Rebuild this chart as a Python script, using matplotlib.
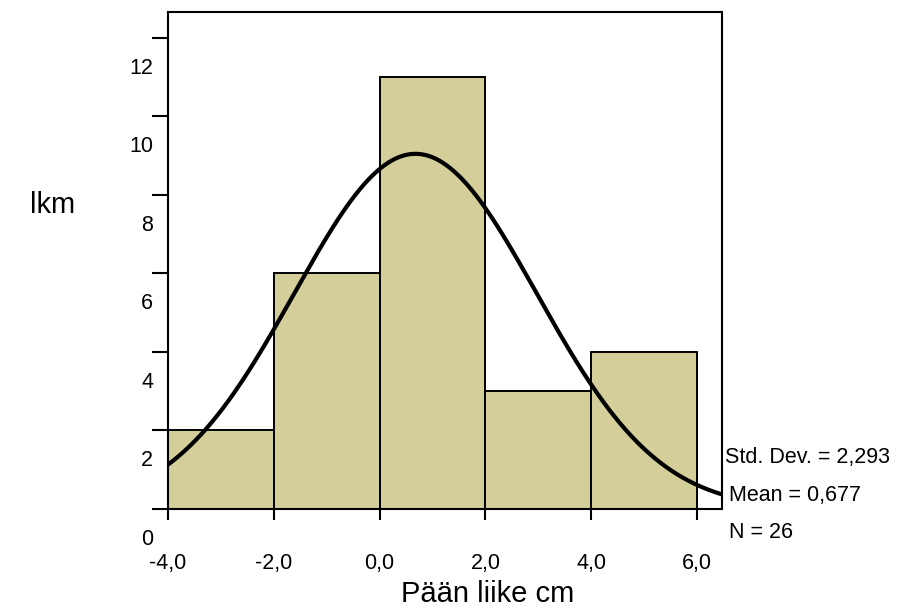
import numpy as np
import matplotlib
matplotlib.use('Agg')
import matplotlib.pyplot as plt
from matplotlib.transforms import ScaledTranslation

plt.rcParams['font.family'] = ['Liberation Sans', 'DejaVu Sans']

# histogram data
bin_edges = [-4.0, -2.0, 0.0, 2.0, 4.0, 6.0]
counts = [2, 6, 11, 3, 4]
std_dev = 2.293
mean = 0.677
n = 26
xticks = [-4.0, -2.0, 0.0, 2.0, 4.0, 6.0]
xtick_labels = ['-4,0', '-2,0', '0,0', '2,0', '4,0', '6,0']
yticks = [0, 2, 4, 6, 8, 10, 12]

bar_color = '#D3CE9A'

fig = plt.figure(figsize=(9.04, 6.11), dpi=100)
ax = fig.add_axes([168/904, 102/611, (722-168)/904, (509-12)/611])

widths = np.diff(bin_edges)
ax.bar(bin_edges[:-1], counts, width=widths, align='edge',
       color=bar_color, edgecolor='black', linewidth=1.4, zorder=2)

# normal curve scaled to counts
xmin, xmax = -4.0, 6.47
xs = np.linspace(xmin, xmax, 400)
bw = widths[0]
ys = n * bw / (std_dev * np.sqrt(2*np.pi)) * np.exp(-0.5*((xs-mean)/std_dev)**2)
ax.plot(xs, ys, color='black', linewidth=3, zorder=3)

ax.set_xlim(xmin, xmax)
ax.set_ylim(0, 12.66)

for s in ax.spines.values():
    s.set_linewidth(1.5)

ax.set_xticks(xticks)
ax.set_xticklabels(xtick_labels, fontsize=15.5)
ax.tick_params(axis='x', direction='out', length=8, width=1.5, pad=24)

ax.set_yticks(yticks)
ax.set_yticklabels([str(v) for v in yticks], fontsize=15.5)
ax.tick_params(axis='y', direction='out', length=11.5, width=1.5, pad=0)
# SPSS style: y labels sit below their ticks
offset = ScaledTranslation(1/100, -28/100, fig.dpi_scale_trans)
for lab in ax.get_yticklabels():
    lab.set_transform(lab.get_transform() + offset)

fig.text(397/904 + 181/904/2, 1 - 594/611, 'Pään liike cm', fontsize=21,
         ha='center', va='center')
fig.text(30/904, 1 - 205/611, 'lkm', fontsize=21, ha='left', va='center')

fig.text(725/904, 1 - 458/611, 'Std. Dev. = 2,293', fontsize=15.5, ha='left', va='center')
fig.text(729/904, 1 - 496/611, 'Mean = 0,677', fontsize=15.5, ha='left', va='center')
fig.text(729/904, 1 - 532/611, 'N = 26', fontsize=15.5, ha='left', va='center')

plt.savefig('out.png', dpi=100)
